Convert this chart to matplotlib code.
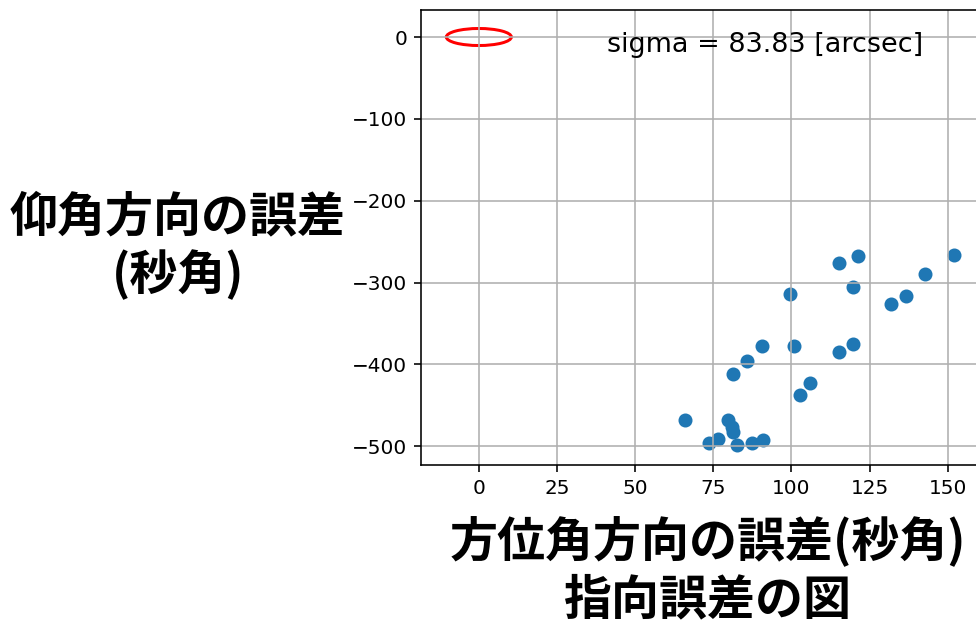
import matplotlib.pyplot as plt
from matplotlib.patches import Ellipse

# 指向誤差データ (秒角)
az_err = [66.1, 73.6, 76.5, 79.7, 81.1, 81.4, 82.7, 87.5, 90.9,
          81.3, 85.9, 90.7, 99.6, 100.9, 102.6, 105.9,
          115.2, 121.4, 119.8, 115.2, 119.8, 131.9, 136.5, 142.8, 152.0]
el_err = [-468, -496, -491, -468, -476, -483, -499, -496, -493,
          -412, -396, -377, -314, -378, -437, -423,
          -276, -268, -306, -385, -375, -326, -316, -290, -266]

sigma = 83.83
circle_radius = 10.4

XLABEL = '方位角方向の誤差(秒角)\n指向誤差の図'
YLABEL = '仰角方向の誤差\n(秒角)'
JP_FONT = ['Noto Sans CJK JP', 'DejaVu Sans']

DPI = 144
fig = plt.figure(figsize=(976 / DPI, 629 / DPI), dpi=DPI)
ax = fig.add_axes([421 / 976, 1 - 465 / 629, 558 / 976, 455 / 629])

ax.scatter(az_err, el_err)
ax.add_patch(Ellipse((0, 0), 2 * circle_radius, 2 * circle_radius,
                     fill=False, edgecolor='red', linewidth=1.5))
ax.text(41, -10, f'sigma = {sigma:.2f} [arcsec]', fontsize=13.5,
        ha='left', va='center')

ax.set_xlim(-18.5, 160)
ax.set_ylim(-523, 33)
ax.set_xticks([0, 25, 50, 75, 100, 125, 150])
ax.set_yticks([0, -100, -200, -300, -400, -500])
ax.grid(True)

ax.set_xlabel(XLABEL, fontsize=24, fontweight='bold', family=JP_FONT,
              ha='center', va='center')
ax.xaxis.set_label_coords(0.514, -0.231)
ax.set_ylabel(YLABEL, fontsize=24, fontweight='bold', family=JP_FONT,
              rotation=0, ha='center', va='center')
ax.yaxis.set_label_coords(-0.4355, 0.481)

fig.savefig('out.png', dpi=DPI)
